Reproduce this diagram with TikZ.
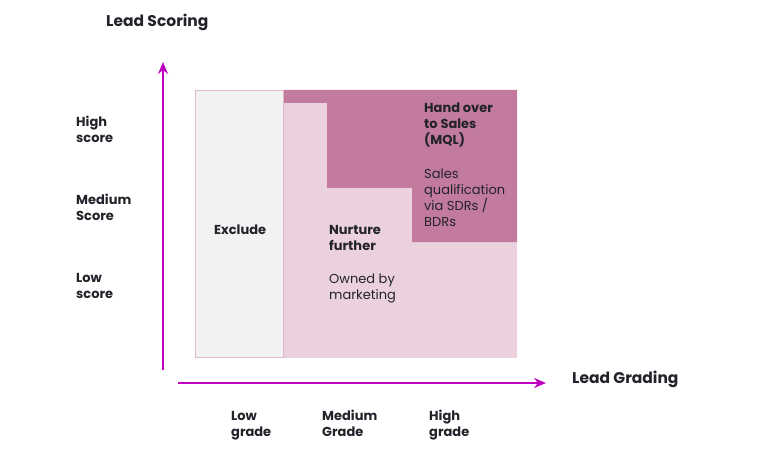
\documentclass[tikz,border=0pt]{standalone}
\usepackage{fontspec}
\setmainfont{Poppins}
\usetikzlibrary{arrows.meta,positioning}
\definecolor{mymagenta}{RGB}{192,0,192}
\definecolor{mylight}{RGB}{235,209,221}
\definecolor{mydark}{RGB}{194,123,159}
\definecolor{mygray}{RGB}{242,242,242}
\definecolor{myedge}{RGB}{226,184,204}
\definecolor{mytext}{RGB}{34,34,42}

\begin{document}
\begin{tikzpicture}[x=1pt, y=-1pt,
    lbl/.style={anchor=base west, align=left, inner sep=0pt, text=mytext, font=\fontsize{13}{16}\selectfont\bfseries},
    note/.style={lbl, font=\fontsize{13}{16}\selectfont},
    title/.style={lbl, font=\fontsize{15.5}{18}\selectfont\bfseries},
    axis/.style={-{Stealth[length=12pt, width=10pt, inset=4pt]}, line width=2.5pt, mymagenta},
]
    \useasboundingbox (0,0) rectangle (773,457);

    % Grid regions
    \fill[mylight] (284,90) rectangle (517,358);
    \fill[mydark] (284,90) -- (517,90) -- (517,242) -- (412,242) -- (412,188)
        -- (327,188) -- (327,103) -- (284,103) -- cycle;
    \filldraw[fill=mygray, draw=myedge, line width=1.5pt] (195.5,90.5) rectangle (283.5,357.5);

    % Axes
    \coordinate (yfoot) at (163,370);
    \coordinate (ytip) at (163,62);
    \coordinate (xfoot) at (178,383);
    \coordinate (xtip) at (546,383);
    \draw[axis] (yfoot) -- (ytip);
    \draw[axis] (xfoot) -- (xtip);

    \node[title] (score_title) at (106,27) {Lead Scoring};
    \node[title] (grade_title) at (572,383) {Lead Grading};

    % Score levels (base = last line)
    \node[lbl] (score_high) at (76,143) {High\\score};
    \node[lbl] (score_med) at (76,220) {Medium\\Score};
    \node[lbl] (score_low) at (76,298) {Low\\score};

    % Grade levels
    \node[lbl] (grade_low) at (231,436) {Low\\grade};
    \node[lbl] (grade_med) at (322,436) {Medium\\Grade};
    \node[lbl] (grade_high) at (429,436) {High\\grade};

    % Region texts
    \node[lbl] (exclude) at (214,234) {Exclude};
    \node[lbl] (nurture) at (329,250) {Nurture\\further};
    \node[note] (nurture_note) at (329,299) {Owned by\\marketing};
    \node[lbl] (handover) at (424,145) {Hand over\\to Sales\\(MQL)};
    \node[note] (handover_note) at (424,226) {Sales\\qualification\\via SDRs /\\BDRs};
\end{tikzpicture}
\end{document}
